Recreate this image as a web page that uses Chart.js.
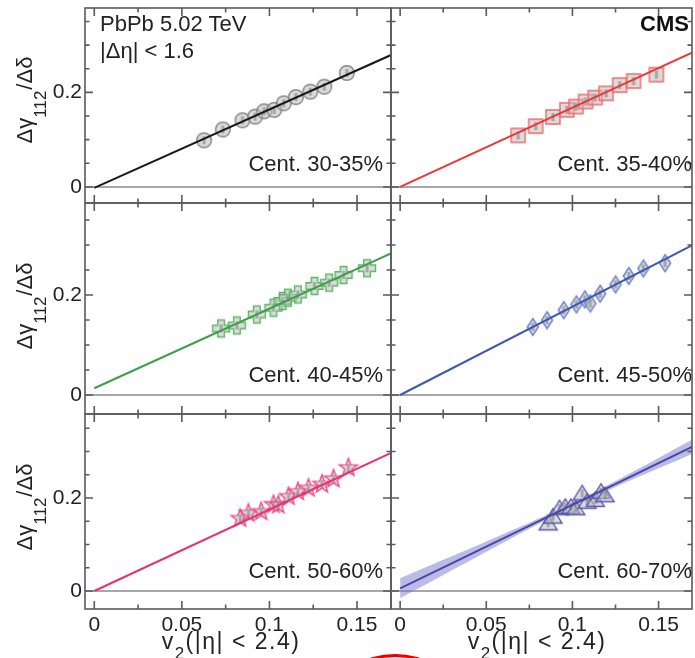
<!DOCTYPE html>
<html><head><meta charset="utf-8">
<script src="https://cdn.jsdelivr.net/npm/chart.js@4.4.1/dist/chart.umd.min.js"></script>
<style>
html,body{margin:0;padding:0;background:#fff;width:695px;height:658px;overflow:hidden;}
#wrap{position:relative;width:700px;height:658px;}
#wrap canvas{position:absolute;left:0;top:0;}
.t{position:absolute;font-family:'Liberation Sans',Arial,sans-serif;font-size:22px;line-height:22px;color:#222;white-space:nowrap;}
.t sub{position:relative;vertical-align:baseline;line-height:0;}
.yt{transform:translate(-50%,-50%) rotate(-90deg);}
.yt sub{font-size:17px;top:14px;margin-right:1px;}
.xt{transform:translateX(-50%);font-size:23px;line-height:23px;letter-spacing:1.5px;}
.xt sub{font-size:17px;top:10px;}
#arc{position:absolute;border:3px solid #e00;border-radius:50%;}
</style></head>
<body><div id="wrap"></div>
<script>
// ---------------- data ----------------
const xTickValues = [0, 0.05, 0.1, 0.15];
const xTickLabels = ['0', '0.05', '0.1', '0.15'];
const xMinorTicks = [0.025, 0.075, 0.125];
const yTickValues = [0, 0.2];
const yTickLabels = ['0', '0.2'];
const yMinorTicks = [0.05, 0.1, 0.15, 0.25, 0.3, 0.35];
const centLabels = ['Cent. 30-35%', 'Cent. 35-40%', 'Cent. 40-45%', 'Cent. 45-50%', 'Cent. 50-60%', 'Cent. 60-70%'];

const v2_30_35 = [0.0627, 0.0734, 0.0846, 0.0918, 0.0970, 0.1027, 0.1082, 0.1151, 0.1233, 0.1313, 0.1442];
const dg_30_35 = [0.0987, 0.1216, 0.1410, 0.1487, 0.1600, 0.1630, 0.1770, 0.1900, 0.2015, 0.2120, 0.2410];
const v2_35_40 = [0.0685, 0.0787, 0.0887, 0.0968, 0.1021, 0.1076, 0.1132, 0.1195, 0.1274, 0.1355, 0.1487];
const dg_35_40 = [0.1090, 0.1285, 0.1480, 0.1630, 0.1700, 0.1806, 0.1890, 0.1980, 0.2154, 0.2240, 0.2375];
const v2_40_45 = [0.0724, 0.0814, 0.0928, 0.1023, 0.1075, 0.1105, 0.1162, 0.1257, 0.1341, 0.1423, 0.1557];
const dg_40_45 = [0.1330, 0.1390, 0.1610, 0.1745, 0.1880, 0.1945, 0.2010, 0.2180, 0.2247, 0.2400, 0.2535];
const v2_45_50 = [0.0770, 0.0853, 0.0950, 0.1023, 0.1072, 0.1104, 0.1161, 0.1250, 0.1327, 0.1412, 0.1538];
const dg_45_50 = [0.1360, 0.1495, 0.1697, 0.1810, 0.1910, 0.1830, 0.2025, 0.2210, 0.2380, 0.2530, 0.2636];
const v2_50_60 = [0.0833, 0.0880, 0.0953, 0.1023, 0.1051, 0.1109, 0.1162, 0.1223, 0.1300, 0.1366, 0.1451];
const dg_50_60 = [0.1560, 0.1670, 0.1706, 0.1860, 0.1850, 0.2030, 0.2135, 0.2210, 0.2295, 0.2410, 0.2650];
const v2_60_70 = [0.0859, 0.0887, 0.0925, 0.0959, 0.0991, 0.1019, 0.1057, 0.1085, 0.1133, 0.1166, 0.1190];
const dg_60_70 = [0.1455, 0.1600, 0.1780, 0.1810, 0.1810, 0.1780, 0.2100, 0.1920, 0.1960, 0.2135, 0.2060];

// linear fits (endpoints)
const fitX = [0, 0.1694];
const fit_30_35 = [-0.002, 0.279];
const fit_35_40 = [0.000, 0.284];
const fit_40_45 = [0.0135, 0.283];
const fit_45_50 = [0.000, 0.299];
const fit_50_60 = [0.000, 0.297];
const fit_60_70 = [0.0057, 0.3098];
// uncertainty band of the 60-70% fit
const bandX  = [0, 0.025, 0.05, 0.075, 0.1, 0.125, 0.15, 0.1694];
const bandLo = [-0.0158, 0.0342, 0.0843, 0.1339, 0.1812, 0.2237, 0.2638, 0.2946];
const bandHi = [0.0272, 0.0670, 0.1067, 0.1467, 0.1892, 0.2365, 0.2862, 0.3250];

// ---------------- styling / layout ----------------
const FONT = "'Liberation Sans', Arial, sans-serif";
const W = 700, H = 658;
const X_MIN = -0.0053, X_MAX = 0.1694;
const colL = [85, 391], colR = [391, 699];
const rowT = [5, 203, 414], rowB = [203, 414, 609];
const rowYMin = [-0.034, -0.038, -0.0387], rowYMax = [0.3785, 0.384, 0.3806];

const panels = [
  {vx: v2_30_35, vy: dg_30_35, fit: fit_30_35, line: '#1a1a1a', mk: 'circle',   mc: '#858585'},
  {vx: v2_35_40, vy: dg_35_40, fit: fit_35_40, line: '#ef3535', mk: 'square',   mc: '#f26a6a'},
  {vx: v2_40_45, vy: dg_40_45, fit: fit_40_45, line: '#3c9f48', mk: 'cross',    mc: '#5cb864'},
  {vx: v2_45_50, vy: dg_45_50, fit: fit_45_50, line: '#3d58b6', mk: 'diamond',  mc: '#6a82cc'},
  {vx: v2_50_60, vy: dg_50_60, fit: fit_50_60, line: '#e8326c', mk: 'star',     mc: '#ef4a86'},
  {vx: v2_60_70, vy: dg_60_70, fit: fit_60_70, line: '#4848a6', mk: 'triangle', mc: '#5656b0', band: true}
];

function makeMarker(shape, stroke) {
  const S = 24, c = document.createElement('canvas');
  c.width = S; c.height = S;
  const g = c.getContext('2d');
  g.translate(S / 2, S / 2);
  g.lineWidth = 1.4; g.strokeStyle = stroke; g.fillStyle = 'rgba(190,190,190,0.55)';
  g.beginPath();
  if (shape === 'circle') g.arc(0, 0, 7.3, 0, Math.PI * 2);
  else if (shape === 'square') g.rect(-7, -7, 14, 14);
  else if (shape === 'cross') {
    const a = 8.5, b = 3.3;
    const pts = [[-b,-a],[b,-a],[b,-b],[a,-b],[a,b],[b,b],[b,a],[-b,a],[-b,b],[-a,b],[-a,-b],[-b,-b]];
    pts.forEach((p, i) => i ? g.lineTo(p[0], p[1]) : g.moveTo(p[0], p[1]));
    g.closePath();
  } else if (shape === 'diamond') {
    g.moveTo(0, -8.5); g.lineTo(5.5, 0); g.lineTo(0, 8.5); g.lineTo(-5.5, 0); g.closePath();
  } else if (shape === 'star') {
    for (let i = 0; i < 10; i++) {
      const r = i % 2 ? 3.9 : 9.5, ang = -Math.PI / 2 + i * Math.PI / 5;
      const px = r * Math.cos(ang), py = r * Math.sin(ang);
      i ? g.lineTo(px, py) : g.moveTo(px, py);
    }
    g.closePath();
  } else if (shape === 'triangle') {
    g.moveTo(0, -8); g.lineTo(9, 6.5); g.lineTo(-9, 6.5); g.closePath();
  }
  g.fill();
  g.fillStyle = 'rgba(120,120,120,0.55)';
  g.fillRect(-1.5, -4, 3, 8);
  g.stroke();
  return c;
}

const framePlugin = {
  id: 'frame',
  beforeDatasetsDraw(chart) {
    const {ctx, chartArea: a, scales: {y}} = chart;
    const y0 = y.getPixelForValue(0);
    ctx.save();
    ctx.strokeStyle = '#8a8a8a'; ctx.lineWidth = 1.5;
    ctx.beginPath(); ctx.moveTo(a.left, y0); ctx.lineTo(a.right, y0); ctx.stroke();
    ctx.restore();
  },
  afterDraw(chart) {
    const {ctx, chartArea: a, scales: {x, y}} = chart;
    ctx.save();
    ctx.strokeStyle = '#5a5a5a'; ctx.lineWidth = 1.6;
    ctx.strokeRect(a.left, a.top, a.right - a.left, a.bottom - a.top);
    ctx.beginPath();
    const xt = (v, len) => { const p = x.getPixelForValue(v);
      ctx.moveTo(p, a.bottom); ctx.lineTo(p, a.bottom - len);
      ctx.moveTo(p, a.top); ctx.lineTo(p, a.top + len); };
    const yt = (v, len) => { const p = y.getPixelForValue(v);
      ctx.moveTo(a.left, p); ctx.lineTo(a.left + len, p);
      ctx.moveTo(a.right, p); ctx.lineTo(a.right - len, p); };
    xTickValues.forEach(v => xt(v, 8));
    xMinorTicks.forEach(v => xt(v, 4.5));
    yTickValues.forEach(v => yt(v, 8));
    yMinorTicks.forEach(v => yt(v, 4.5));
    ctx.stroke();
    ctx.restore();
  }
};

function zeroPad(s) { s.paddingLeft = 0; s.paddingRight = 0; s.paddingTop = 0; s.paddingBottom = 0; }

const wrap = document.getElementById('wrap');

panels.forEach((p, i) => {
  const row = Math.floor(i / 2), col = i % 2;
  const showX = row === 2, showY = col === 0;
  const xAxisH = showX ? H - rowB[row] : 0;
  const yAxisW = showY ? colL[col] : 0;
  const cv = document.createElement('canvas');
  cv.width = W; cv.height = H;
  wrap.appendChild(cv);
  const datasets = [
    {type: 'line', data: fitX.map((x, k) => ({x, y: p.fit[k]})), borderColor: p.line, borderWidth: 2,
     pointRadius: 0, showLine: true, fill: false, tension: 0},
    {type: 'scatter', data: p.vx.map((x, k) => ({x, y: p.vy[k]})), pointStyle: makeMarker(p.mk, p.mc),
     pointRadius: 7, showLine: false}
  ];
  if (p.band) {
    datasets.push({type: 'line', data: bandX.map((x, k) => ({x, y: bandHi[k]})), borderWidth: 0, pointRadius: 0,
      showLine: true, fill: '+1', backgroundColor: 'rgba(120,120,210,0.5)', borderColor: 'rgba(0,0,0,0)', tension: 0.35});
    datasets.push({type: 'line', data: bandX.map((x, k) => ({x, y: bandLo[k]})), borderWidth: 0, pointRadius: 0,
      showLine: true, fill: false, borderColor: 'rgba(0,0,0,0)', tension: 0.35});
  }
  new Chart(cv, {
    type: 'scatter',
    data: {datasets},
    plugins: [framePlugin],
    options: {
      responsive: false, animation: false, devicePixelRatio: 1, events: [],
      layout: {padding: {left: colL[col] - yAxisW, right: W - colR[col], top: rowT[row], bottom: H - rowB[row] - xAxisH}},
      plugins: {legend: {display: false}, tooltip: {enabled: false}},
      scales: {
        x: {type: 'linear', position: 'bottom', min: X_MIN, max: X_MAX,
          grid: {display: false, drawTicks: false}, border: {display: false},
          afterBuildTicks(s) { s.ticks = xTickValues.map(v => ({value: v})); },
          afterFit(s) { s.height = xAxisH; zeroPad(s); },
          ticks: {display: showX, padding: 4, maxRotation: 0, autoSkip: false, color: '#222',
            font: {family: FONT, size: 21}, callback: (v, k) => xTickLabels[k]}},
        y: {type: 'linear', position: 'left', min: rowYMin[row], max: rowYMax[row],
          grid: {display: false, drawTicks: false}, border: {display: false},
          afterBuildTicks(s) { s.ticks = yTickValues.map(v => ({value: v})); },
          afterFit(s) { s.width = yAxisW; zeroPad(s); },
          ticks: {display: showY, padding: 3, autoSkip: false, color: '#222',
            font: {family: FONT, size: 21}, callback: (v, k) => yTickLabels[k]}}
      }
    }
  });
});

// ---------------- text overlays ----------------
function addText(html, style, cls) {
  const d = document.createElement('div');
  d.className = 't' + (cls ? ' ' + cls : '');
  d.innerHTML = html;
  Object.assign(d.style, style);
  wrap.appendChild(d);
  return d;
}
addText('PbPb 5.02 TeV', {left: '100px', top: '13px'});
addText('|Δη| &lt; 1.6', {left: '100px', top: '40px'});
addText('CMS', {right: (W - 689) + 'px', top: '13px', fontWeight: 'bold', color: '#111'});
const centRight = [383, 692], centTop = [153, 364, 560];
centLabels.forEach((s, i) => addText(s, {right: (W - centRight[i % 2]) + 'px', top: centTop[Math.floor(i / 2)] + 'px'}));
const yTitleY = [100, 306, 507];
yTitleY.forEach(cy => addText('Δγ<sub>112</sub>/Δδ', {left: '25px', top: cy + 'px'}, 'yt'));
const xTitleX = [231, 537];
xTitleX.forEach(cx => addText('v<sub>2</sub>(|η| &lt; 2.4)', {left: cx + 'px', top: '630px'}, 'xt'));
const arc = document.createElement('div');
arc.id = 'arc';
Object.assign(arc.style, {left: '337px', top: '654px', width: '110px', height: '70px'});
wrap.appendChild(arc);
</script>
</body></html>
